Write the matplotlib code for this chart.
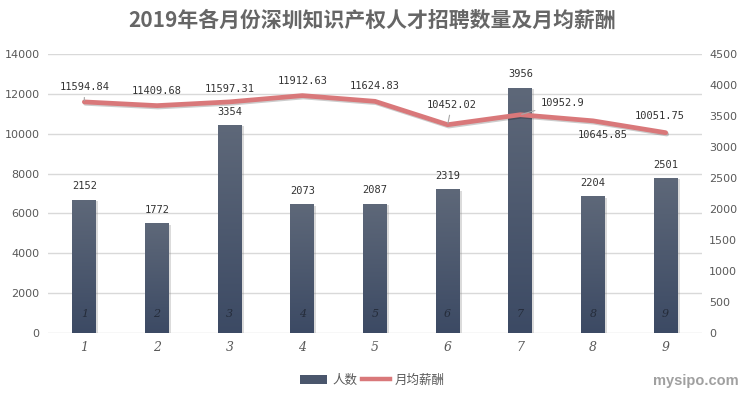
import numpy as np
import matplotlib
matplotlib.use('Agg')
import matplotlib.pyplot as plt
import matplotlib.patheffects as pe
from matplotlib.patches import Patch
from matplotlib.lines import Line2D

plt.rcParams['font.family'] = ['Noto Sans CJK SC', 'DejaVu Sans']

months = ['1', '2', '3', '4', '5', '6', '7', '8', '9']
people = [2152, 1772, 3354, 2073, 2087, 2319, 3956, 2204, 2501]
salary = [11594.84, 11409.68, 11597.31, 11912.63, 11624.83, 10452.02, 10952.9, 10645.85, 10051.75]
salary_txt = ['11594.84', '11409.68', '11597.31', '11912.63', '11624.83', '10452.02', '10952.9', '10645.85', '10051.75']

# label offsets for the salary line (pixels, y up)
lab_off = [(0, 15), (0, 15), (0, 13), (0, 15), (0, 15), (4, 20), (20, 12), (10, -14), (-6, 17)]
lab_ha = ['center'] * 6 + ['left', 'center', 'center']
leader = [True, False, False, False, False, True, True, False, False]

grey = '#595959'
line_col = '#d9787a'

fig = plt.figure(figsize=(7.44, 3.99), dpi=100)
ax = fig.add_axes([48 / 744, 66 / 399, 654 / 744, 279 / 399])
x = np.arange(len(months))

# grid follows the left (salary) axis
for g in range(0, 14001, 2000):
    ax.axhline(g * 4500 / 14000, color='#d9d9d9', lw=1, zorder=0)

bars = ax.bar(x, people, width=0.33, color='#4a566c', zorder=2,
              path_effects=[pe.SimplePatchShadow(offset=(1.5, -1), alpha=0.3, shadow_rgbFace='#888888'), pe.Normal()])
grad = np.linspace(0, 1, 256).reshape(-1, 1)
cmap = matplotlib.colors.LinearSegmentedColormap.from_list('g', ['#3c4a64', '#5e6879'])
for b in bars:
    im = ax.imshow(grad, extent=[b.get_x(), b.get_x() + b.get_width(), 0, b.get_height()],
                   origin='lower', cmap=cmap, aspect='auto', zorder=3)
    im.set_clip_path(b)

for i, v in enumerate(people):
    ax.annotate(str(v), (x[i], v), xytext=(0, 6), textcoords='offset points',
                ha='center', va='bottom', fontsize=7.5, family='DejaVu Sans Mono', color='#333333', zorder=5)
    ax.annotate(months[i], (x[i], 0), xytext=(0, 14), textcoords='offset points',
                ha='center', va='center', fontsize=8, style='italic', family='DejaVu Serif',
                color='#252c3a', zorder=5)

ax.set_xlim(-0.5, len(months) - 0.5)
ax.set_ylim(0, 4500)
ax.set_yticks(range(0, 4501, 500))
ax.set_xticks(x)
ax.set_xticklabels(months, family='DejaVu Serif', style='italic', fontsize=9, color=grey)
for s in ax.spines.values():
    s.set_visible(False)

ax2 = ax.twinx()
ax2.plot(x, salary, color=line_col, lw=3.4, solid_capstyle='round', zorder=4,
         path_effects=[pe.SimpleLineShadow(offset=(0.8, -1), alpha=0.2), pe.Normal()])
ax2.set_ylim(0, 14000)
ax2.set_yticks(range(0, 14001, 2000))
for s in ax2.spines.values():
    s.set_visible(False)

# bars' axis on the right, salary axis on the left
ax.yaxis.tick_right()
ax2.yaxis.tick_left()
ax.tick_params(axis='x', length=0, pad=6)
ax.tick_params(axis='y', length=0, pad=5, labelsize=8, labelcolor=grey, labelleft=False, labelright=True)
ax2.tick_params(axis='y', length=0, pad=6, labelsize=8, labelcolor=grey, labelleft=True, labelright=False)
for lbl in ax.get_yticklabels() + ax2.get_yticklabels():
    lbl.set_family('DejaVu Sans')

for i, v in enumerate(salary):
    dx, dy = lab_off[i]
    ap = dict(arrowstyle='-', color='#a6a6a6', lw=0.8, shrinkA=2, shrinkB=1) if leader[i] else None
    ax2.annotate(salary_txt[i], (x[i], v), xytext=(dx * 0.72, dy * 0.72), textcoords='offset points',
                 ha=lab_ha[i], va='center', fontsize=7.5, family='DejaVu Sans Mono', color='#333333',
                 arrowprops=ap, zorder=6)

fig.text(0.5, 0.95, '2019年各月份深圳知识产权人才招聘数量及月均薪酬', ha='center', va='center',
         fontsize=15, fontweight='bold', color='#666666')

handles = [Patch(facecolor='#4a566c', edgecolor='none'),
           Line2D([0], [0], color=line_col, lw=3.2)]
fig.legend(handles, ['人数', '月均薪酬'], loc='center', bbox_to_anchor=(0.5, 0.047), ncol=2,
           frameon=False, fontsize=9, labelcolor=grey, handlelength=2.2, handletextpad=0.4,
           columnspacing=0.4)

fig.text(0.993, 0.045, 'mysipo.com', ha='right', va='center', fontsize=10.5, fontweight='bold',
         color='#a0a0a0', family='Liberation Sans')

fig.savefig('out.png', dpi=100)
